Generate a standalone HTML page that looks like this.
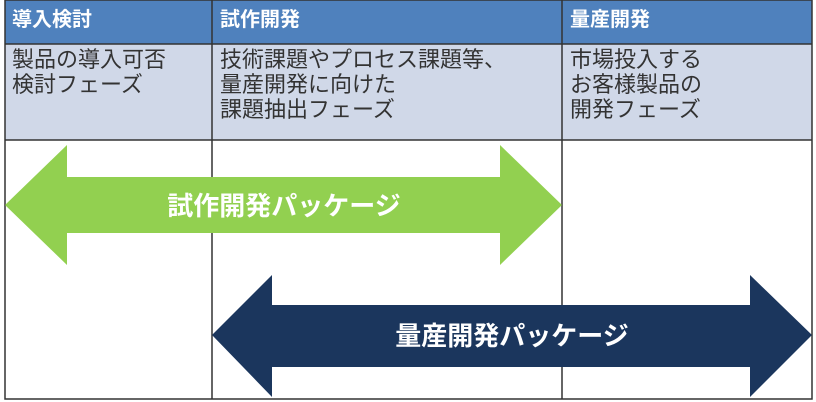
<!DOCTYPE html>
<html><head><meta charset="utf-8"><style>
body{margin:0;width:816px;height:402px;background:#fff;overflow:hidden;font-family:"Liberation Sans","Noto Sans CJK JP",sans-serif}
.t{position:absolute;white-space:nowrap}
.h{color:#fff;font-weight:bold;font-size:20px;top:3px}
.b{color:#333;font-size:22px;line-height:25px;top:47px}
</style></head><body>
<svg width="816" height="402" style="position:absolute;left:0;top:0">
<rect x="5" y="0" width="807" height="44" fill="#4f81bd"/>
<rect x="5" y="44" width="807" height="96" fill="#d0d8e8"/>
<g stroke="#333" stroke-width="1.5" fill="none">
<rect x="5" y="0" width="807" height="399"/>
<line x1="5" y1="44" x2="812" y2="44"/>
<line x1="5" y1="140" x2="812" y2="140"/>
<line x1="212" y1="0" x2="212" y2="399"/>
<line x1="562" y1="0" x2="562" y2="399"/>
</g>
<polygon fill="#92d050" points="5,205 67,145 67,177 500,177 500,145 562,205 500,265 500,233 67,233 67,265"/>
<polygon fill="#1b365d" points="212,335 272,275 272,305 750,305 750,275 812,335 750,397 750,367 272,367 272,397"/>
</svg>
<div class="t h" style="left:12px">導入検討</div>
<div class="t h" style="left:220px">試作開発</div>
<div class="t h" style="left:570px">量産開発</div>
<div class="t b" style="left:12px">製品の導入可否<br>検討フェーズ</div>
<div class="t b" style="left:220px">技術課題やプロセス課題等、<br>量産開発に向けた<br>課題抽出フェーズ</div>
<div class="t b" style="left:570px">市場投入する<br>お客様製品の<br>開発フェーズ</div>
<div class="t" style="left:134px;top:186px;width:300px;text-align:center;color:#fff;font-weight:bold;font-size:26px">試作開発パッケージ</div>
<div class="t" style="left:362px;top:316px;width:300px;text-align:center;color:#fff;font-weight:bold;font-size:26px">量産開発パッケージ</div>
</body></html>
